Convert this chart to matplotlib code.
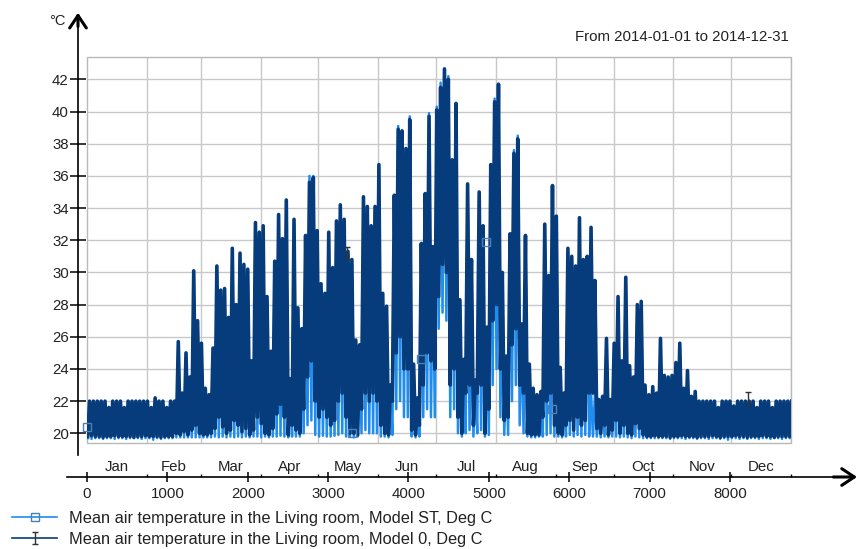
import numpy as np
import matplotlib.pyplot as plt
from matplotlib import transforms
from matplotlib.lines import Line2D
from matplotlib.patches import Rectangle
from matplotlib.path import Path

plt.rcParams['font.family'] = ['Liberation Sans', 'DejaVu Sans']
TEXT = '#222222'
DARK = '#063c7c'
LIGHT = '#1f8cf0'
GRID = '#c8c8c8'

# Hourly data summarised in 2-day bins (48 h) over 2014: bin max / bin min
model0_high = [
    22.0, 22.0, 22.0, 22.0, 22.0, 21.6, 22.0, 22.0, 22.0, 21.6,
    22.0, 22.0, 22.0, 22.0, 22.0, 22.0, 21.6, 22.2, 22.0, 22.0,
    21.6, 22.0, 22.0, 25.7, 22.5, 25.0, 23.5, 30.1, 27.0, 25.6,
    22.8, 22.4, 25.3, 30.4, 28.9, 29.0, 27.2, 31.5, 28.0, 31.2,
    30.5, 30.2, 24.5, 33.1, 32.5, 32.9, 28.5, 25.1, 30.7, 33.6,
    32.1, 34.5, 23.4, 33.3, 27.8, 26.5, 32.3, 35.6, 35.9, 32.6,
    29.3, 28.7, 32.5, 30.3, 33.2, 34.2, 33.3, 31.3, 30.8, 25.8,
    25.5, 34.7, 34.1, 32.9, 34.1, 36.7, 28.7, 27.9, 23.0, 34.8,
    38.9, 38.8, 37.7, 39.5, 24.3, 22.2, 31.8, 34.9, 39.7, 31.6,
    40.1, 41.5, 42.65, 42.0, 37.0, 40.5, 28.3, 24.6, 35.5, 30.8,
    23.3, 35.0, 32.9, 26.6, 36.7, 40.6, 41.7, 30.0, 24.8, 32.4,
    37.4, 38.3, 26.8, 32.3, 24.3, 22.8, 22.4, 22.6, 33.0, 29.8,
    35.4, 33.5, 24.1, 22.5, 31.5, 31.0, 30.4, 33.4, 30.8, 31.0,
    32.8, 29.5, 22.1, 22.3, 25.9, 22.1, 25.6, 28.5, 24.5, 29.7,
    24.2, 23.5, 28.0, 28.2, 23.0, 22.4, 22.9, 22.5, 25.9, 23.6,
    23.5, 23.6, 24.4, 25.6, 22.8, 23.9, 22.3, 22.6, 22.0, 22.0,
    22.0, 22.0, 22.0, 21.6, 22.0, 22.0, 22.0, 21.7, 22.0, 22.0,
    22.0, 22.0, 22.0, 21.6, 22.0, 22.0, 22.0, 21.6, 22.0, 22.0,
    22.0, 22.0, 22.0,
]
model0_low = [
    19.8, 19.85, 19.8, 19.8, 19.75, 19.8, 19.8, 19.85, 19.8, 19.8,
    19.8, 19.8, 19.75, 19.8, 19.8, 19.85, 19.8, 19.8, 19.8, 19.75,
    19.8, 19.8, 19.8, 20.0, 19.9, 20.1, 19.9, 20.2, 20.5, 20.0,
    19.9, 19.9, 20.0, 20.3, 21.0, 20.4, 20.0, 20.2, 20.8, 20.5,
    20.1, 20.3, 19.9, 20.2, 21.0, 20.6, 20.0, 19.9, 20.3, 21.2,
    21.8, 21.0, 19.9, 20.5, 20.2, 20.0, 21.5, 23.5, 24.5, 22.0,
    21.0, 21.5, 21.0, 20.5, 20.8, 22.0, 22.5, 21.0, 20.0, 20.0,
    19.9, 21.5, 22.5, 22.0, 22.5, 22.0, 20.5, 20.0, 19.9, 22.0,
    25.0, 26.0, 24.0, 24.0, 20.2, 19.9, 20.5, 23.0, 25.0, 24.5,
    24.0, 28.5, 30.5, 30.0, 23.0, 24.0, 21.0, 20.0, 22.5, 23.0,
    20.5, 22.5, 23.0, 20.0, 21.5, 27.0, 28.0, 24.0, 20.8, 21.0,
    25.5, 26.5, 23.0, 22.5, 20.0, 19.9, 19.9, 19.9, 21.0, 22.0,
    22.5, 20.5, 20.0, 19.9, 20.5, 20.8, 20.2, 21.0, 20.5, 20.8,
    22.5, 22.5, 20.3, 20.0, 20.5, 19.9, 20.2, 20.8, 20.0, 20.5,
    20.0, 19.9, 20.6, 20.3, 19.9, 19.8, 19.8, 19.85, 19.8, 19.8,
    19.8, 19.75, 19.8, 19.8, 19.85, 19.8, 19.8, 19.8, 19.75, 19.8,
    19.8, 19.8, 19.85, 19.8, 19.75, 19.8, 19.8, 19.8, 19.85, 19.8,
    19.8, 19.75, 19.8, 19.8, 19.8, 19.85, 19.8, 19.8, 19.75, 19.8,
    19.8, 19.8, 19.8,
]
st_high = [
    22.0, 22.0, 22.0, 22.0, 22.0, 21.6, 22.0, 22.0, 22.0, 21.6,
    22.0, 22.0, 22.0, 22.0, 22.0, 22.0, 21.6, 22.1, 22.0, 22.0,
    21.6, 22.0, 22.0, 25.4, 22.3, 24.7, 23.2, 29.8, 26.7, 25.3,
    22.5, 22.2, 25.0, 30.1, 28.6, 28.7, 26.9, 31.2, 27.7, 30.9,
    30.2, 29.9, 24.2, 32.8, 32.2, 32.6, 28.2, 24.8, 30.4, 33.3,
    31.8, 34.2, 23.1, 33.0, 27.5, 26.2, 32.0, 36.0, 36.0, 32.3,
    29.0, 28.4, 32.2, 30.0, 32.9, 33.9, 33.0, 31.0, 30.5, 25.5,
    25.2, 34.4, 33.8, 32.6, 33.8, 36.4, 28.4, 27.6, 22.8, 34.5,
    39.1, 38.5, 37.4, 39.7, 24.0, 22.0, 31.5, 34.6, 39.9, 31.3,
    40.3, 41.8, 42.4, 42.2, 36.7, 40.2, 28.0, 24.3, 35.2, 30.5,
    23.0, 34.7, 32.6, 26.3, 36.4, 40.8, 41.5, 29.7, 24.5, 32.1,
    37.6, 38.5, 26.5, 32.0, 24.0, 22.6, 22.2, 22.4, 32.7, 29.5,
    35.1, 33.2, 23.8, 22.3, 31.2, 30.7, 30.1, 33.1, 30.5, 30.7,
    22.5, 22.4, 22.0, 22.1, 25.6, 22.0, 25.3, 28.2, 24.2, 29.4,
    23.9, 23.2, 27.7, 27.9, 22.8, 22.2, 22.7, 22.3, 25.6, 23.3,
    23.2, 23.3, 24.1, 25.3, 22.6, 23.6, 22.1, 22.4, 22.0, 22.0,
    22.0, 22.0, 22.0, 21.6, 22.0, 22.0, 22.0, 21.7, 22.0, 22.0,
    22.0, 22.0, 22.0, 21.6, 22.0, 22.0, 22.0, 21.6, 22.0, 22.0,
    22.0, 22.0, 22.0,
]
st_low = [
    19.7, 19.65, 19.7, 19.7, 19.65, 19.7, 19.7, 19.65, 19.7, 19.7,
    19.65, 19.7, 19.7, 19.7, 19.65, 19.7, 19.7, 19.6, 19.7, 19.65,
    19.7, 19.7, 19.7, 19.75, 19.75, 19.75, 19.75, 19.75, 19.75, 19.75,
    19.75, 19.75, 19.75, 19.8, 19.75, 19.8, 19.75, 19.8, 19.75, 19.8,
    19.75, 19.8, 19.75, 19.8, 19.8, 19.75, 19.8, 19.75, 19.8, 19.8,
    19.85, 19.8, 19.75, 19.8, 19.8, 19.8, 20.0, 20.5, 20.8, 19.9,
    19.8, 19.85, 19.8, 19.8, 19.85, 19.9, 20.0, 19.8, 19.8, 19.75,
    19.8, 20.0, 20.2, 20.0, 20.0, 20.0, 19.8, 19.8, 19.75, 19.9,
    21.5, 22.0, 21.0, 21.0, 19.8, 19.75, 19.8, 21.0, 21.5, 21.0,
    21.0, 26.5, 27.5, 27.0, 21.0, 21.5, 20.0, 19.8, 20.0, 20.2,
    19.8, 20.0, 20.2, 19.8, 19.9, 23.0, 24.0, 21.0, 19.9, 19.9,
    22.0, 23.0, 20.5, 20.0, 19.8, 19.75, 19.75, 19.8, 19.8, 19.9,
    20.0, 19.8, 19.8, 19.75, 19.8, 19.9, 19.8, 19.9, 19.8, 19.9,
    19.8, 19.8, 19.8, 19.75, 19.8, 19.75, 19.8, 19.8, 19.75, 19.8,
    19.75, 19.7, 19.8, 19.75, 19.7, 19.7, 19.7, 19.7, 19.7, 19.7,
    19.7, 19.65, 19.7, 19.7, 19.7, 19.65, 19.7, 19.7, 19.65, 19.7,
    19.7, 19.65, 19.7, 19.7, 19.65, 19.7, 19.6, 19.7, 19.7, 19.65,
    19.7, 19.65, 19.7, 19.7, 19.65, 19.7, 19.7, 19.65, 19.7, 19.7,
    19.65, 19.7, 19.7,
]

# the few series markers that stand out of the data mass (hour, value)
st_mark_h = [0, 3300, 4150, 4960, 5790]
st_mark_v = [20.4, 20.05, 24.6, 31.9, 21.5]
m0_mark_h = [3230, 8222]
m0_mark_v = [31.2, 22.2]

months = ['Jan', 'Feb', 'Mar', 'Apr', 'May', 'Jun',
          'Jul', 'Aug', 'Sep', 'Oct', 'Nov', 'Dec']
month_start = [0, 744, 1416, 2160, 2880, 3624, 4344, 5088,
               5832, 6552, 7296, 8016, 8760]


def zigzag(low, high):
    start = np.arange(len(low)) * 48
    t = np.column_stack([start + 8, start + 32]).ravel()
    v = np.column_stack([low, high]).ravel()
    return t, v


ibar = Path([(-0.5, -1), (0.5, -1), (0, -1), (0, 1), (-0.5, 1), (0.5, 1)],
            [Path.MOVETO, Path.LINETO, Path.MOVETO, Path.LINETO,
             Path.MOVETO, Path.LINETO])

W, H = 861, 549
fig = plt.figure(figsize=(W / 100, H / 100), dpi=100)
ax = fig.add_axes([87 / W, 1 - 443.3 / H, 704 / W, 386 / H])
ax.set_xlim(0, 8760)
ax.set_ylim(19.38, 43.37)

t_st, v_st = zigzag(st_low, st_high)
t_m0, v_m0 = zigzag(model0_low, model0_high)
ax.plot(t_st, v_st, color=LIGHT, lw=1.8, zorder=2)
ax.plot(t_m0, v_m0, color=DARK, lw=2.6, zorder=3)
ax.plot(st_mark_h, st_mark_v, ls='none', marker='s', ms=6, mfc='none',
        mec='#4a7fb8', mew=1, zorder=4, clip_on=False)
ax.plot(m0_mark_h, m0_mark_v, ls='none', marker=ibar, ms=8, color='#333333',
        mew=1, zorder=4)

# light grey plot box, grid on month boundaries and every 2 degrees
for s in ax.spines.values():
    s.set_color('none')
ax.add_patch(Rectangle((0, 0), 1, 1, transform=ax.transAxes, fill=False,
                       ec='#b9b9b9', lw=1, zorder=1.5, clip_on=False))
ax.set_axisbelow(True)
ax.set_yticks(range(20, 43, 2))
ax.set_xticks(range(0, 8001, 1000))
ax.set_xticks(month_start, minor=True)
ax.grid(True, which='minor', axis='x', color=GRID, lw=1)
ax.grid(True, which='major', axis='y', color=GRID, lw=1)

ax.spines['left'].set_position(('outward', 6.5))
ax.spines['bottom'].set_position(('outward', 24.3))
ax.tick_params(axis='y', which='major', direction='inout', length=12.2,
               width=1.1, color='black', labelcolor=TEXT, labelsize=10.8, pad=0.5)
ax.tick_params(axis='x', which='major', direction='inout', length=6.5,
               width=1.1, color='black', labelcolor=TEXT, labelsize=10.8, pad=4)
ax.tick_params(axis='x', which='minor', direction='in', length=2.5,
               width=1.0, color='black')

# black axis lines with arrow heads
yx = -9 / 704
xy = -33.7 / 386
ax.plot([yx, yx], [-0.03, 1.10], transform=ax.transAxes, color='black',
        lw=1.2, clip_on=False)
ax.plot([-20 / 704, 1.085], [xy, xy], transform=ax.transAxes, color='black',
        lw=1.2, clip_on=False)
arrow = dict(arrowstyle='->,head_length=0.45,head_width=0.3', lw=2.2,
             color='black', shrinkA=0, shrinkB=0, mutation_scale=20)
ax.annotate('', xy=(yx, 1.1155), xytext=(yx, 1.08), xycoords='axes fraction',
            arrowprops=arrow)
ax.annotate('', xy=(1.0938, xy), xytext=(1.06, xy), xycoords='axes fraction',
            arrowprops=arrow)

# month names between month boundaries
trans = transforms.blended_transform_factory(ax.transData, ax.transAxes)
for i, m in enumerate(months):
    mid = (month_start[i] + month_start[i + 1]) / 2
    ax.text(mid, -0.0614, m, transform=trans, ha='center', va='center',
            fontsize=10.8, color=TEXT)

fig.text(57 / W, 1 - 21 / H, '°C', ha='center', va='center', fontsize=10.5,
         color=TEXT)
fig.text(789 / W, 1 - 41 / H, 'From 2014-01-01 to 2014-12-31', ha='right',
         va='baseline', fontsize=10.8, color=TEXT)

handles = [
    Line2D([], [], color=LIGHT, lw=1.2, marker='s', ms=6, mfc='none',
           mec='#4a7fb8', mew=1),
    Line2D([], [], color=DARK, lw=1.2, marker=ibar, ms=8, mec='#333333', mew=1),
]
labels = ['Mean air temperature in the Living room, Model ST, Deg C',
          'Mean air temperature in the Living room, Model 0, Deg C']
fig.legend(handles, labels, loc='upper left', bbox_to_anchor=(12 / W, 1 - 511 / H),
           frameon=False, fontsize=11.8, handlelength=2.75, handletextpad=0.75,
           labelspacing=0.35, borderpad=0, borderaxespad=0, labelcolor=TEXT)

fig.savefig('out.png', dpi=100)
